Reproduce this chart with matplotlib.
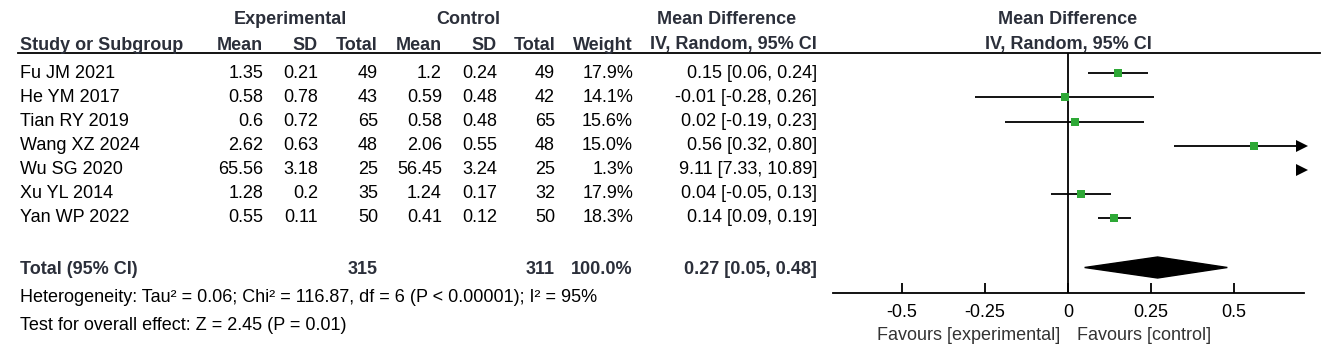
import matplotlib.pyplot as plt
from matplotlib.patches import Polygon

plt.rcParams["font.family"] = ["Liberation Sans", "DejaVu Sans"]

studies = ["Fu JM 2021", "He YM 2017", "Tian RY 2019", "Wang XZ 2024",
           "Wu SG 2020", "Xu YL 2014", "Yan WP 2022"]
exp_mean = ["1.35", "0.58", "0.6", "2.62", "65.56", "1.28", "0.55"]
exp_sd = ["0.21", "0.78", "0.72", "0.63", "3.18", "0.2", "0.11"]
exp_n = [49, 43, 65, 48, 25, 35, 50]
ctl_mean = ["1.2", "0.59", "0.58", "2.06", "56.45", "1.24", "0.41"]
ctl_sd = ["0.24", "0.48", "0.48", "0.55", "3.24", "0.17", "0.12"]
ctl_n = [49, 42, 65, 48, 25, 32, 50]
weight = [17.9, 14.1, 15.6, 15.0, 1.3, 17.9, 18.3]
md = [0.15, -0.01, 0.02, 0.56, 9.11, 0.04, 0.14]
lo = [0.06, -0.28, -0.19, 0.32, 7.33, -0.05, 0.09]
hi = [0.24, 0.26, 0.23, 0.80, 10.89, 0.13, 0.19]

total_md, total_lo, total_hi = 0.27, 0.05, 0.48
total_exp_n, total_ctl_n = 315, 311
ticks = [-0.5, -0.25, 0, 0.25, 0.5]
tick_labels = ["-0.5", "-0.25", "0", "0.25", "0.5"]

HEAD = "#2b2f3a"
GREEN = "#2ea836"
FS = 13

W, H = 1325, 360
fig = plt.figure(figsize=(W / 100, H / 100), dpi=100)
ax = fig.add_axes([0, 0, 1, 1])
ax.set_xlim(0, W)
ax.set_ylim(H, 0)
ax.axis("off")

row_y = [73, 97, 122, 146, 170, 194, 218]
total_y = 270

# column right edges (px)
cols = {"em": 263, "esd": 318, "en": 378, "cm": 442, "csd": 497,
        "cn": 555, "w": 633, "md": 817}


def txt(x, y, s, ha="right", bold=False, color="black", size=FS):
    ax.text(x, y, s, ha=ha, va="center", fontsize=size,
            fontweight="bold" if bold else "normal",
            color=HEAD if bold else color)


# header
txt(290, 20, "Experimental", ha="center", bold=True)
txt(468, 20, "Control", ha="center", bold=True)
txt(727, 20, "Mean Difference", ha="center", bold=True)
txt(1068, 20, "Mean Difference", ha="center", bold=True)
txt(20, 45, "Study or Subgroup", ha="left", bold=True)
for key, lab in [("em", "Mean"), ("esd", "SD"), ("en", "Total"), ("cm", "Mean"),
                 ("csd", "SD"), ("cn", "Total"), ("w", "Weight"),
                 ("md", "IV, Random, 95% CI")]:
    txt(cols[key], 45, lab, bold=True)
txt(1068, 45, "IV, Random, 95% CI", ha="center", bold=True)
ax.plot([18, 1320], [53, 53], color="black", lw=1.3)

for i, y in enumerate(row_y):
    txt(20, y, studies[i], ha="left")
    txt(cols["em"], y, exp_mean[i])
    txt(cols["esd"], y, exp_sd[i])
    txt(cols["en"], y, str(exp_n[i]))
    txt(cols["cm"], y, ctl_mean[i])
    txt(cols["csd"], y, ctl_sd[i])
    txt(cols["cn"], y, str(ctl_n[i]))
    txt(cols["w"], y, f"{weight[i]:.1f}%")
    txt(cols["md"], y, f"{md[i]:.2f} [{lo[i]:.2f}, {hi[i]:.2f}]")

txt(20, total_y, "Total (95% CI)", ha="left", bold=True)
txt(cols["en"], total_y, str(total_exp_n), bold=True)
txt(cols["cn"], total_y, str(total_ctl_n), bold=True)
txt(cols["w"], total_y, "100.0%", bold=True)
txt(cols["md"], total_y, f"{total_md:.2f} [{total_lo:.2f}, {total_hi:.2f}]", bold=True)
txt(20, 298, "Heterogeneity: Tau\u00b2 = 0.06; Chi\u00b2 = 116.87, df = 6 (P < 0.00001); I\u00b2 = 95%",
    ha="left")
txt(20, 325, "Test for overall effect: Z = 2.45 (P = 0.01)", ha="left")

# ------------------------------------------------------------------ forest
x0, x1, ytop, ybot = 833, 1304, 53, 293
fx = fig.add_axes([x0 / W, 1 - ybot / H, (x1 - x0) / W, (ybot - ytop) / H])
xmin, xmax = -0.708, 0.711
fx.set_xlim(xmin, xmax)
fx.set_ylim(ybot, ytop)
fx.patch.set_alpha(0)
for s in ["top", "left", "right"]:
    fx.spines[s].set_visible(False)
fx.spines["bottom"].set_linewidth(1.3)
fx.set_yticks([])
fx.set_xticks(ticks)
fx.set_xticklabels(tick_labels, fontsize=FS)
fx.tick_params(axis="x", direction="in", length=7, width=1.3, pad=8)
fx.axvline(0, color="black", lw=1.3)

for i, y in enumerate(row_y):
    a, b = max(lo[i], xmin), min(hi[i], xmax)
    if a < xmax:
        fx.plot([a, b], [y, y], color="black", lw=1.3, solid_capstyle="butt")
    if hi[i] > xmax:
        fx.plot(xmax - 0.006, y, marker=">", color="black", ms=8,
                markeredgewidth=0, clip_on=False)
    if xmin < md[i] < xmax:
        ms = 6.2 * (weight[i] / 18.3) ** 0.5
        fx.plot(md[i], y, marker="s", color=GREEN, ms=ms, markeredgewidth=0)

dy = 10.5
fx.add_patch(Polygon([[total_lo, total_y - 2.5], [total_md, total_y - 2.5 - dy],
                      [total_hi, total_y - 2.5], [total_md, total_y - 2.5 + dy]],
                     closed=True, color="black"))

ax.text(1060, 335, "Favours [experimental]", ha="right", va="center",
        fontsize=FS, color="#333333")
ax.text(1077, 335, "Favours [control]", ha="left", va="center",
        fontsize=FS, color="#333333")

fig.savefig("out.png", dpi=100)
